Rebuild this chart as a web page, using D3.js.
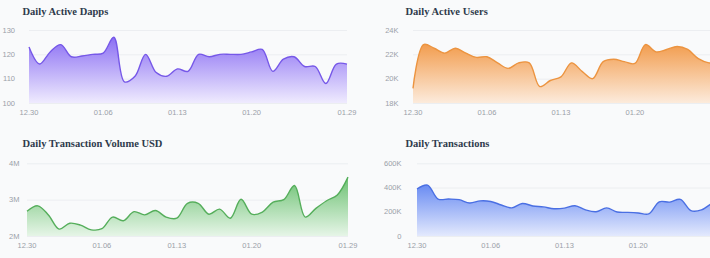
<!DOCTYPE html>
<html>
<head>
<meta charset="utf-8">
<script src="https://cdn.jsdelivr.net/npm/d3@7"></script>
<style>
  html, body { margin: 0; padding: 0; background: #f9fafb; overflow: hidden; }
  svg { display: block; }
</style>
</head>
<body>
<div id="app"></div>
<script>
// categories (days)
const dates = ['12.30', '12.31', '01.01', '01.02', '01.03', '01.04', '01.05', '01.06', '01.07', '01.08',
  '01.09', '01.10', '01.11', '01.12', '01.13', '01.14', '01.15', '01.16', '01.17', '01.18',
  '01.19', '01.20', '01.21', '01.22', '01.23', '01.24', '01.25', '01.26', '01.27', '01.28', '01.29'];
const xTicks = ['12.30', '01.06', '01.13', '01.20', '01.29'];

// series
const activeDapps = [123, 116, 121, 124, 119, 119.3, 120, 120.5, 127, 108.7, 111, 120, 112.5, 111, 114,
  113, 120, 119, 120, 120, 120, 121, 122, 113, 118, 119, 115, 115, 108, 116, 116];
const activeUsers = [19200, 22800, 22500, 22100, 22500, 22100, 21750, 21800, 21300, 20850, 21300, 21300,
  19350, 19850, 20150, 21300, 20600, 20000, 21400, 21600, 21400, 21250, 22800, 22200, 22400, 22650,
  22400, 21650, 21300, 21300, 21400];
const txVolume = [2.68e6, 2.83e6, 2.58e6, 2.19e6, 2.35e6, 2.30e6, 2.17e6, 2.20e6, 2.52e6, 2.42e6, 2.67e6,
  2.58e6, 2.70e6, 2.52e6, 2.49e6, 2.90e6, 2.90e6, 2.60e6, 2.74e6, 2.49e6, 3.01e6, 2.60e6, 2.66e6,
  2.93e6, 3.0e6, 3.39e6, 2.52e6, 2.76e6, 2.97e6, 3.13e6, 3.62e6];
const transactions = [388000, 420000, 305000, 305000, 300000, 272000, 290000, 285000, 256000, 232000,
  268000, 248000, 240000, 225000, 230000, 250000, 215000, 200000, 232000, 198000, 195000, 190000,
  182000, 282000, 280000, 302000, 210000, 215000, 268000, 290000, 295000];

const dappsTicks = [100, 110, 120, 130];
const usersTicks = [18000, 20000, 22000, 24000];
const volumeTicks = [2e6, 3e6, 4e6];
const txTicks = [0, 200000, 400000, 600000];

const width = 710;
const height = 258;

const fmtK = (v) => (v === 0 ? '0' : v / 1000 + 'K');
const fmtM = (v) => v / 1e6 + 'M';

const panels = [
  { title: 'Daily Active Dapps', values: activeDapps, ticks: dappsTicks, fmt: (v) => v,
    tx: 22.5, ty: 15, left: 29, right: 347, top: 30, bottom: 103, labelX: 15,
    line: '#7658e8', top0: '#8b6ff3', bot0: '#efebfe' },
  { title: 'Daily Active Users', values: activeUsers, ticks: usersTicks, fmt: fmtK,
    tx: 405.5, ty: 15, left: 413, right: 730, top: 30, bottom: 103, labelX: 398.5,
    line: '#ec9440', top0: '#f29d4f', bot0: '#fcebdc' },
  { title: 'Daily Transaction Volume USD', values: txVolume, ticks: volumeTicks, fmt: fmtM,
    tx: 22.5, ty: 146.5, left: 27, right: 348, top: 163.3, bottom: 236, labelX: 19.5,
    line: '#55ae5b', top0: '#6cc172', bot0: '#e6f5e7' },
  { title: 'Daily Transactions', values: transactions, ticks: txTicks, fmt: fmtK,
    tx: 405.5, ty: 146.5, left: 417, right: 733, top: 163.3, bottom: 236, labelX: 401.5,
    line: '#4a6fe3', top0: '#6a8cf2', bot0: '#e3e9fd' }
];

const svg = d3.select('#app').append('svg')
  .attr('width', width)
  .attr('height', height);

const defs = svg.append('defs');

panels.forEach((p, i) => {
  const x = d3.scalePoint().domain(dates).range([p.left, p.right]);
  const y = d3.scaleLinear()
    .domain([p.ticks[0], p.ticks[p.ticks.length - 1]])
    .range([p.bottom, p.top]);

  const g = svg.append('g').attr('class', 'panel');

  g.append('text')
    .attr('x', p.tx)
    .attr('y', p.ty)
    .attr('font-family', '"Liberation Serif", "Times New Roman", serif')
    .attr('font-weight', 'bold')
    .attr('font-size', 10.5)
    .attr('fill', '#2f3a4c')
    .text(p.title);

  // grid lines
  g.selectAll('line.grid')
    .data(p.ticks)
    .join('line')
    .attr('class', 'grid')
    .attr('x1', p.left)
    .attr('x2', p.right)
    .attr('y1', (d) => y(d) + 0.5)
    .attr('y2', (d) => y(d) + 0.5)
    .attr('stroke', '#eceef1')
    .attr('stroke-width', 1);

  // y labels
  g.selectAll('text.ylab')
    .data(p.ticks)
    .join('text')
    .attr('class', 'ylab')
    .attr('x', p.labelX)
    .attr('y', (d) => y(d))
    .attr('dy', '0.35em')
    .attr('text-anchor', 'end')
    .attr('font-family', '"Liberation Sans", Arial, sans-serif')
    .attr('font-size', 7.5)
    .attr('fill', '#9aa0a8')
    .text((d) => p.fmt(d));

  // x labels (the right column runs past the window edge, like the original)
  g.selectAll('text.xlab')
    .data(xTicks.filter((d) => x(d) + 10 < width))
    .join('text')
    .attr('class', 'xlab')
    .attr('x', (d) => x(d))
    .attr('y', p.bottom + 12)
    .attr('text-anchor', 'middle')
    .attr('font-family', '"Liberation Sans", Arial, sans-serif')
    .attr('font-size', 7.5)
    .attr('fill', '#9aa0a8')
    .text((d) => d);

  const gid = 'grad' + i;
  const grad = defs.append('linearGradient')
    .attr('id', gid)
    .attr('x1', 0).attr('y1', 0).attr('x2', 0).attr('y2', 1);
  grad.append('stop').attr('offset', '0%').attr('stop-color', p.top0);
  grad.append('stop').attr('offset', '100%').attr('stop-color', p.bot0);

  const area = d3.area()
    .x((d, j) => x(dates[j]))
    .y0(p.bottom)
    .y1((d) => y(d))
    .curve(d3.curveCatmullRom.alpha(0.5));

  const line = d3.line()
    .x((d, j) => x(dates[j]))
    .y((d) => y(d))
    .curve(d3.curveCatmullRom.alpha(0.5));

  g.append('path')
    .datum(p.values)
    .attr('d', area)
    .attr('fill', `url(#${gid})`);

  g.append('path')
    .datum(p.values)
    .attr('d', line)
    .attr('fill', 'none')
    .attr('stroke', p.line)
    .attr('stroke-width', 1.4);
});
</script>
</body>
</html>
